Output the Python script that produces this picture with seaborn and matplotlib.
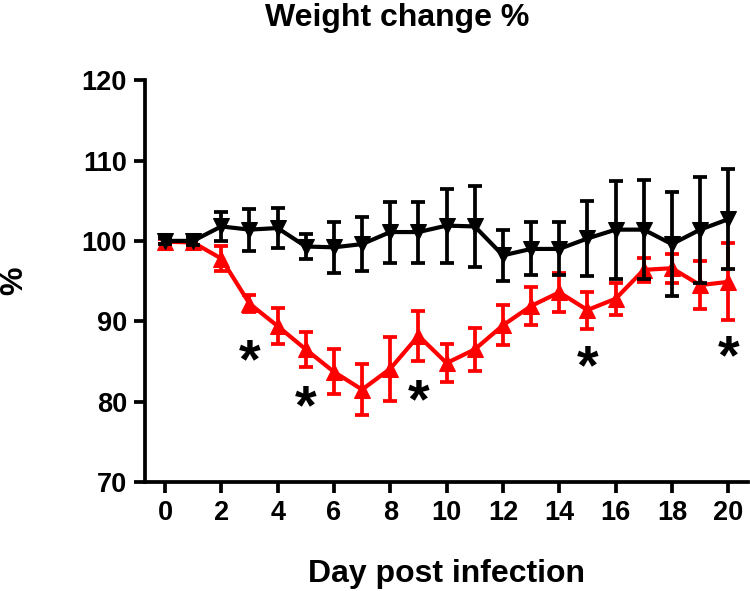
import matplotlib
matplotlib.use('Agg')
import matplotlib.pyplot as plt
import matplotlib.transforms as mtransforms
import pandas as pd
import seaborn as sns

days = list(range(21))

# control group (black, down triangles): mean and SEM
ctrl_mean = [100.0, 100.0, 101.8, 101.4, 101.6, 99.3, 99.2, 99.6, 101.1, 101.1, 101.9,
             101.8, 98.2, 99.0, 99.0, 100.3, 101.4, 101.4, 99.6, 101.4, 102.7]
ctrl_err = [0.4, 0.5, 1.8, 2.6, 2.5, 1.6, 3.2, 3.4, 3.8, 3.8, 4.6,
            5.0, 3.2, 3.3, 3.3, 4.7, 6.1, 6.2, 6.5, 6.6, 6.2]

# infected group (red, up triangles)
inf_mean = [99.9, 99.8, 97.8, 92.2, 89.4, 86.5, 83.7, 81.5, 84.1, 88.2, 84.8,
            86.5, 89.5, 91.9, 93.6, 91.4, 92.8, 96.4, 96.6, 94.5, 94.9]
inf_err = [0.3, 0.8, 1.6, 1.1, 2.2, 2.2, 2.8, 3.2, 4.0, 3.1, 2.4,
           2.7, 2.5, 2.4, 2.4, 2.3, 2.0, 1.5, 1.8, 3.0, 4.8]

# significance marks
star_days = [3, 5, 9, 15, 20]
star_y = [86.1, 80.4, 81.2, 85.4, 86.6]

df = pd.DataFrame({
    'day': days + days,
    'weight': ctrl_mean + inf_mean,
    'group': ['control'] * len(days) + ['infected'] * len(days),
})

sns.set_style('ticks')
plt.rcParams['font.family'] = ['Liberation Sans', 'DejaVu Sans']
plt.rcParams['font.weight'] = 'bold'
for key in ['text.color', 'axes.labelcolor', 'xtick.color', 'ytick.color', 'axes.edgecolor']:
    plt.rcParams[key] = 'black'

fig = plt.figure(figsize=(7.5, 5.91), dpi=100)
ax = fig.add_axes([0.1933, 0.1844, 0.804, 0.680])

# error bars
ax.errorbar(days, inf_mean, yerr=inf_err, fmt='none', ecolor='#ff0000',
            elinewidth=2.7, capsize=5, capthick=2.7, zorder=2)
ax.errorbar(days, ctrl_mean, yerr=ctrl_err, fmt='none', ecolor='black',
            elinewidth=2.7, capsize=5, capthick=2.7, zorder=4)

sns.lineplot(data=df[df.group == 'infected'], x='day', y='weight', color='#ff0000',
             marker='^', markersize=11, markeredgecolor='#ff0000', linewidth=3,
             ax=ax, zorder=3)
sns.lineplot(data=df[df.group == 'control'], x='day', y='weight', color='black',
             marker='v', markersize=11, markeredgecolor='black', linewidth=3,
             ax=ax, zorder=5)

# asterisk glyph sits high in its text box, so nudge it down
star_tr = mtransforms.offset_copy(ax.transData, fig=fig, y=-8, units='points')
for d, y in zip(star_days, star_y):
    ax.text(d, y, '*', ha='center', va='center', fontsize=40, fontweight='bold',
            color='black', transform=star_tr)

ax.set_xlim(-0.71, 20.7)
ax.set_ylim(70, 120)
ax.set_xticks(range(0, 21, 2))
ax.set_yticks(range(70, 121, 10))

sns.despine(ax=ax)
for s in ['left', 'bottom']:
    ax.spines[s].set_linewidth(2.7)
ax.tick_params(axis='both', width=2.7, length=8, labelsize=19.5, pad=5)
for lab in ax.get_xticklabels() + ax.get_yticklabels():
    lab.set_fontweight('bold')

ax.set_xlabel('Day post infection', fontsize=23, fontweight='bold', labelpad=24)
ax.set_ylabel('%', fontsize=23, fontweight='bold', labelpad=38)
fig.suptitle('Weight change %', x=0.53, y=0.995, fontsize=23, fontweight='bold',
             va='top')

fig.savefig('out.png', dpi=100)
